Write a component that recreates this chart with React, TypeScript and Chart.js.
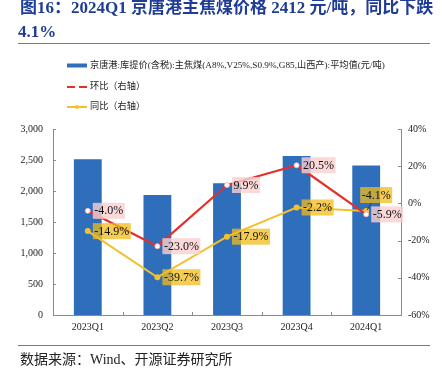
import React, { useEffect, useRef } from "react";
import { Chart, registerables } from "chart.js";
Chart.register(...registerables);

const categories = ["2023Q1", "2023Q2", "2023Q3", "2023Q4", "2024Q1"];
const priceValues = [2513, 1935, 2127, 2563, 2412];
const qoqValues = [-4.0, -23.0, 9.9, 20.5, -5.9];
const yoyValues = [-14.9, -39.7, -17.9, -2.2, -4.1];

const titleLines = ["图16：2024Q1 京唐港主焦煤价格 2412 元/吨，同比下跌", "4.1%"];
const legendLabels = [
  "京唐港:库提价(含税):主焦煤(A8%,V25%,S0.9%,G85,山西产):平均值(元/吨)",
  "环比（右轴）",
  "同比（右轴）",
];
const sourceText = "数据来源：Wind、开源证券研究所";

const SERIF = '"Liberation Serif", "Times New Roman", "Noto Sans CJK SC", serif';
const BLUE = "#2F6EBA";
const RED = "#E5302A";
const YELLOW = "#F5C02E";
const AXIS = "#8A8A8A";

const decorPlugin = {
  id: "decor",
  afterDatasetsDraw(chart: any) {
    const ctx = chart.ctx;
    const qoqMeta = chart.getDatasetMeta(1);
    const yoyMeta = chart.getDatasetMeta(2);
    ctx.save();
    ctx.setLineDash([]);
    ctx.font = `12px ${SERIF}`;
    ctx.textBaseline = "middle";
    ctx.textAlign = "left";
    const drawBox = (x: number, y: number, text: string, bg: string) => {
      const w = ctx.measureText(text).width + 3;
      const h = 16;
      ctx.fillStyle = bg;
      ctx.fillRect(x, y - h / 2, w, h);
      ctx.fillStyle = "#111";
      ctx.fillText(text, x + 1.5, y + 0.5);
    };
    qoqMeta.data.forEach((pt: any, i: number) => {
      drawBox(pt.x + 5, pt.y, qoqValues[i].toFixed(1) + "%", "rgba(250,208,208,0.8)");
    });
    yoyMeta.data.forEach((pt: any, i: number) => {
      const other = qoqMeta.data[i];
      const text = yoyValues[i].toFixed(1) + "%";
      if (Math.abs(other.y - pt.y) < 16) {
        ctx.strokeStyle = "#333";
        ctx.lineWidth = 0.8;
        ctx.beginPath();
        ctx.moveTo(pt.x + 1, pt.y - 1);
        ctx.lineTo(pt.x + 5, pt.y - 8);
        ctx.stroke();
        drawBox(pt.x - 6, pt.y - 16, text, "rgba(242,188,28,0.75)");
      } else {
        drawBox(pt.x + 5, pt.y, text, "rgba(242,188,28,0.75)");
      }
    });
    ctx.restore();
  },
  afterDraw(chart: any) {
    const ctx = chart.ctx;
    const area = chart.chartArea;
    const ys = chart.scales.y;
    const y1 = chart.scales.y1;
    const xs = chart.scales.x;
    ctx.save();
    ctx.setLineDash([]);
    ctx.strokeStyle = AXIS;
    ctx.lineWidth = 1;
    ctx.beginPath();
    ys.ticks.forEach((t: any) => {
      const py = Math.round(ys.getPixelForValue(t.value)) + 0.5;
      ctx.moveTo(area.left, py);
      ctx.lineTo(area.left + 3, py);
    });
    y1.ticks.forEach((t: any) => {
      const py = Math.round(y1.getPixelForValue(t.value)) + 0.5;
      ctx.moveTo(area.right - 3, py);
      ctx.lineTo(area.right, py);
    });
    for (let i = 1; i < categories.length; i++) {
      const px = Math.round((xs.getPixelForValue(i - 1) + xs.getPixelForValue(i)) / 2) + 0.5;
      ctx.moveTo(px, area.bottom);
      ctx.lineTo(px, area.bottom - 3);
    }
    ctx.stroke();

    ctx.fillStyle = "#1F3C96";
    ctx.font = `bold 17px ${SERIF}`;
    ctx.textBaseline = "alphabetic";
    ctx.textAlign = "left";
    ctx.fillText(titleLines[0], 20, 13);
    ctx.fillText(titleLines[1], 18, 37);

    ctx.strokeStyle = "#7A7A7A";
    ctx.lineWidth = 1.2;
    ctx.beginPath();
    ctx.moveTo(18, 43.5);
    ctx.lineTo(430, 43.5);
    ctx.moveTo(18, 345.5);
    ctx.lineTo(430, 345.5);
    ctx.stroke();

    ctx.font = `9.2px ${SERIF}`;
    ctx.textBaseline = "middle";
    ctx.fillStyle = BLUE;
    ctx.fillRect(67, 63.5, 20, 4);
    ctx.strokeStyle = RED;
    ctx.lineWidth = 2;
    ctx.beginPath();
    ctx.moveTo(67, 87);
    ctx.lineTo(75, 87);
    ctx.moveTo(79, 87);
    ctx.lineTo(87, 87);
    ctx.stroke();
    ctx.strokeStyle = YELLOW;
    ctx.beginPath();
    ctx.moveTo(67, 107);
    ctx.lineTo(87, 107);
    ctx.stroke();
    ctx.fillStyle = YELLOW;
    ctx.beginPath();
    ctx.arc(77, 107, 2, 0, Math.PI * 2);
    ctx.fill();
    ctx.fillStyle = "#222";
    ctx.fillText(legendLabels[0], 90, 65.5);
    ctx.fillText(legendLabels[1], 90, 87);
    ctx.fillText(legendLabels[2], 90, 107);

    ctx.font = `14px ${SERIF}`;
    ctx.fillStyle = "#222";
    ctx.fillText(sourceText, 20, 360);
    ctx.restore();
  },
};

export default function App() {
  const ref = useRef<HTMLCanvasElement | null>(null);
  useEffect(() => {
    document.body.style.margin = "0";
    if (!ref.current) return;
    const tickFont = { family: SERIF, size: 10 };
    const chart = new Chart(ref.current, {
      type: "bar",
      data: {
        labels: categories,
        datasets: [
          {
            type: "bar",
            label: legendLabels[0],
            data: priceValues,
            backgroundColor: BLUE,
            yAxisID: "y",
            barPercentage: 0.4,
            categoryPercentage: 1,
            order: 3,
          },
          {
            type: "line",
            label: legendLabels[1],
            data: qoqValues,
            borderColor: RED,
            backgroundColor: RED,
            borderWidth: 2.2,
            borderCapStyle: "round",
            borderJoinStyle: "round",
            fill: false,
            pointRadius: 2.5,
            pointBackgroundColor: "#ffffff",
            pointBorderColor: "#F3B9B9",
            pointBorderWidth: 0.8,
            yAxisID: "y1",
            tension: 0,
            order: 1,
          },
          {
            type: "line",
            label: legendLabels[2],
            data: yoyValues,
            borderColor: YELLOW,
            backgroundColor: YELLOW,
            borderWidth: 2,
            fill: false,
            pointRadius: 2,
            pointBackgroundColor: YELLOW,
            pointBorderColor: YELLOW,
            yAxisID: "y1",
            tension: 0,
            order: 2,
          },
        ] as any,
      },
      options: {
        responsive: false,
        animation: false,
        layout: { padding: { top: 129, left: 0, right: 0, bottom: 0 } },
        plugins: {
          legend: { display: false },
          title: { display: false },
          tooltip: { enabled: false },
        },
        scales: {
          x: {
            grid: { display: false, drawTicks: false },
            border: { display: true, color: AXIS },
            ticks: { font: tickFont, color: "#222", padding: 6 },
            afterFit: (s: any) => {
              s.height = 64;
            },
          },
          y: {
            position: "left",
            min: 0,
            max: 3000,
            grid: { display: false, drawTicks: false },
            border: { display: true, color: AXIS },
            ticks: {
              stepSize: 500,
              font: tickFont,
              color: "#222",
              padding: 10,
              callback: (v: any) => Number(v).toLocaleString("en-US"),
            },
            afterFit: (s: any) => {
              s.width = 53;
            },
          },
          y1: {
            position: "right",
            min: -60,
            max: 40,
            grid: { display: false, drawTicks: false },
            border: { display: true, color: AXIS },
            ticks: {
              stepSize: 20,
              font: tickFont,
              color: "#222",
              padding: 7,
              callback: (v: any) => v + "%",
            },
            afterFit: (s: any) => {
              s.width = 41;
            },
          },
        },
      } as any,
      plugins: [decorPlugin],
    });
    return () => chart.destroy();
  }, []);
  return (
    <div style={{ width: 442, height: 379 }}>
      <canvas ref={ref} width={442} height={379} style={{ display: "block" }} />
    </div>
  );
}
